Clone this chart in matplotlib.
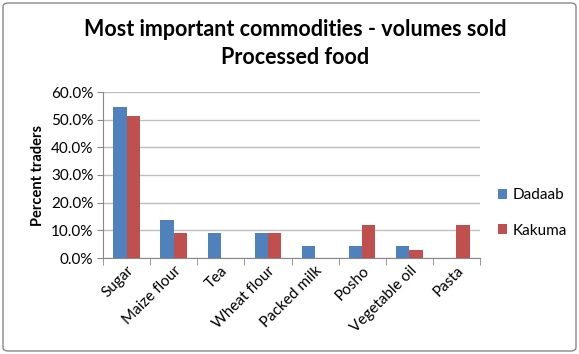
import matplotlib.pyplot as plt
import numpy as np
from matplotlib.patches import FancyBboxPatch

items = ['Sugar', 'Maize flour', 'Tea', 'Wheat flour', 'Packed milk', 'Posho', 'Vegetable oil', 'Pasta']
dadaab = [54.5, 13.6, 9.1, 9.1, 4.5, 4.5, 4.5, 0.0]
kakuma = [51.5, 9.1, 0.0, 9.1, 0.0, 12.1, 3.0, 12.1]

plt.rcParams['font.family'] = ['Lato', 'DejaVu Sans']

fig = plt.figure(figsize=(5.79, 3.54), dpi=100)
ax = fig.add_axes([103/579, 1 - 258/354, (480 - 103)/579, (258 - 92)/354])

x = np.arange(len(items))
w = 0.28
ax.bar(x - w/2, dadaab, w, color='#4F81BD', label='Dadaab', zorder=3)
ax.bar(x + w/2, kakuma, w, color='#C0504D', label='Kakuma', zorder=3)

ax.set_xlim(-0.5, len(items) - 0.5)
ax.set_ylim(0, 60)
ax.set_yticks(np.arange(0, 61, 10))
ax.set_yticklabels(['%.1f%%' % v for v in np.arange(0, 61, 10)], fontsize=11)
ax.yaxis.grid(True, color='#BFBFBF', linewidth=1, zorder=0)

# category labels sit under the bars, tick marks between groups
ax.set_xticks(x)
ax.set_xticklabels(items, rotation=45, ha='right', rotation_mode='anchor', fontsize=11)
ax.tick_params(axis='x', length=0, pad=4)
ax.set_xticks(np.arange(-0.5, len(items)), minor=True)
ax.tick_params(axis='x', which='minor', length=5, color='#888888')
ax.tick_params(axis='y', length=4, color='#888888', pad=3)

for s in ['top', 'right']:
    ax.spines[s].set_visible(False)
ax.spines['left'].set_color('#888888')
ax.spines['bottom'].set_color('#888888')

ax.set_ylabel('Percent traders', fontsize=10.5, fontweight='bold', labelpad=4)

fig.text(295/579, 1 - 30/354, 'Most important commodities - volumes sold',
         ha='center', va='center', fontsize=15.5, fontweight='bold')
fig.text(295/579, 1 - 58/354, 'Processed food',
         ha='center', va='center', fontsize=15.5, fontweight='bold')

ax.legend(loc='center left', bbox_to_anchor=(484/579, 1 - 213/354),
          bbox_transform=fig.transFigure, frameon=False, fontsize=11,
          handlelength=0.6, handleheight=0.6, handletextpad=0.4, labelspacing=1.4)

# chart border
fig.patches.append(FancyBboxPatch((3/579, 3/354), 573/579, 348/354,
                                  boxstyle='round,pad=0,rounding_size=0.01',
                                  transform=fig.transFigure, fill=False,
                                  edgecolor='#888888', linewidth=1))

fig.savefig('out.png', dpi=100)
